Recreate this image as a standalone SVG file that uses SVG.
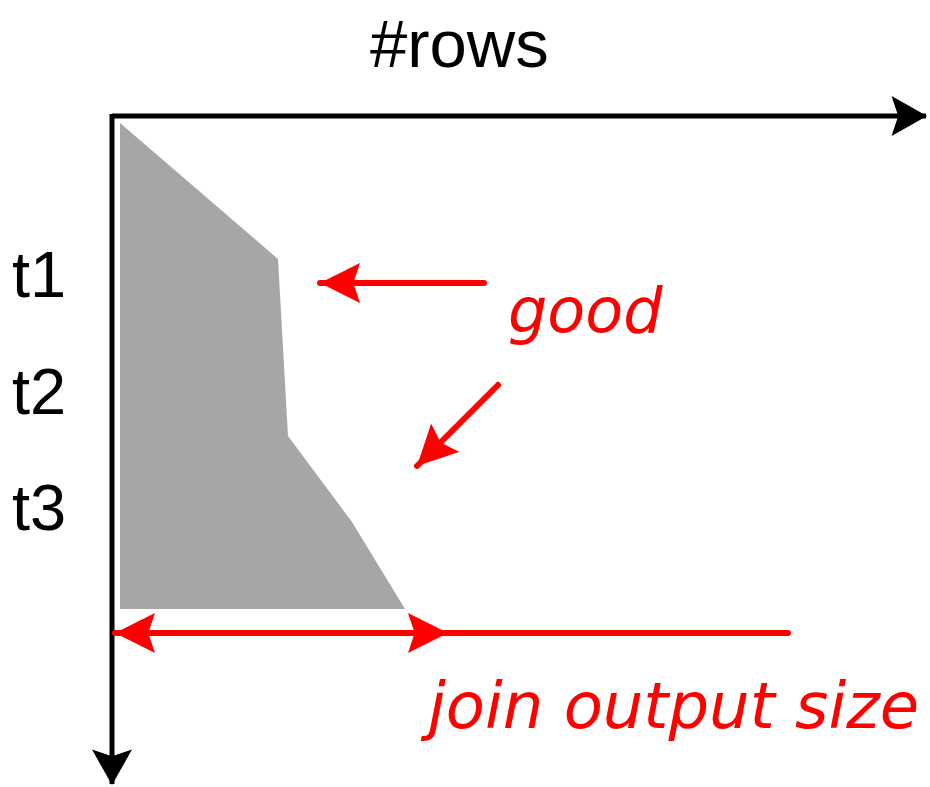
<svg xmlns="http://www.w3.org/2000/svg" width="930" height="787" viewBox="0 0 930 787">
<style>
.lbl{font-family:"Liberation Sans",Arial,sans-serif;fill:#000}
.red{font-family:"DejaVu Sans",sans-serif;font-style:italic;fill:#ff0000}
.ax{stroke:#000;stroke-width:5;fill:none}
.ra{stroke:#ff0000;stroke-width:6;fill:none;stroke-linecap:round}
</style>
<defs>
<marker id="ka" markerUnits="userSpaceOnUse" markerWidth="40" markerHeight="40" viewBox="0 0 32 36" refX="31" refY="18" orient="auto-start-reverse">
<path d="M0,0 L32,18 L0,36 L6,18 Z" fill="#000"/>
</marker>
<marker id="rh" markerUnits="userSpaceOnUse" markerWidth="40" markerHeight="40" viewBox="0 0 36 36" refX="36" refY="18" orient="auto-start-reverse">
<path d="M0,0 L36,18 L0,36 L6,18 Z" fill="#ff0000"/>
</marker>
</defs>
<g id="area">
<polygon points="120,123 278,259 288,436 352,522 405,609 120,609" fill="#a6a6a6"/>
</g>
<g id="connectors">
<path class="ax" d="M112,116 H926" marker-end="url(#ka)"/>
<path class="ax" d="M112,114 V784" marker-end="url(#ka)"/>
<path class="ra" d="M484,283 H320" marker-end="url(#rh)"/>
<path class="ra" d="M498,385 L417,466" marker-end="url(#rh)"/>
<path class="ra" d="M788,633 H450" />
<path class="ra" d="M448,633 H115" marker-start="url(#rh)" marker-end="url(#rh)"/>
</g>
<g id="labels">
<text class="lbl" x="370" y="67" font-size="67">#rows</text>
<text class="lbl" x="12" y="297" font-size="65">t1</text>
<text class="lbl" x="12" y="414" font-size="65">t2</text>
<text class="lbl" x="12" y="530" font-size="65">t3</text>
<text class="red" x="508" y="332" font-size="62">good</text>
<text class="red" x="428" y="728" font-size="64">join output size</text>
</g>
</svg>
